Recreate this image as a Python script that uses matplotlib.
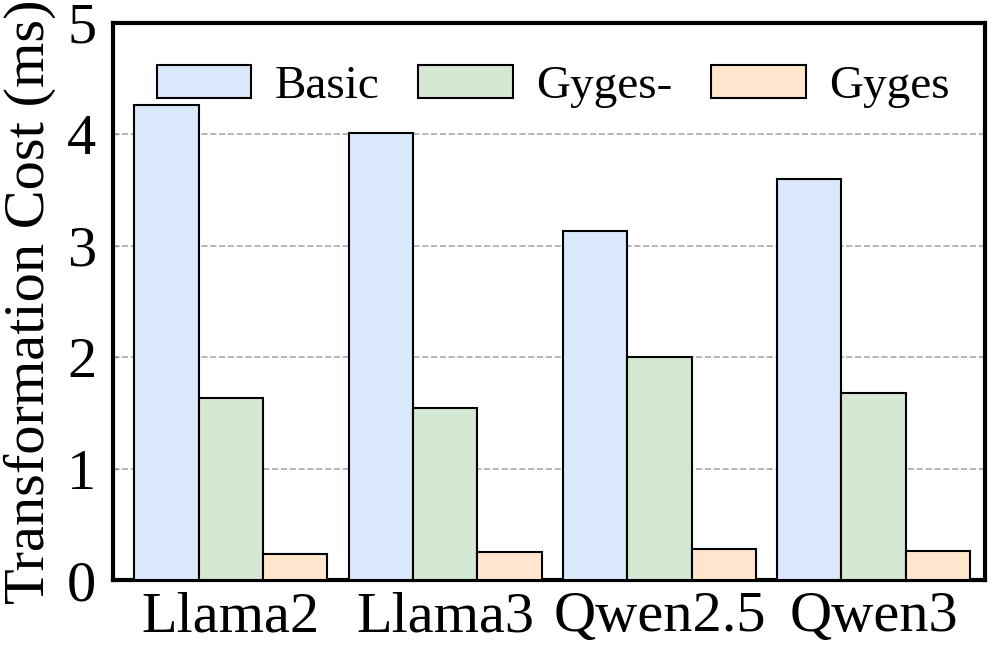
import numpy as np
import matplotlib
matplotlib.use("Agg")
import matplotlib.pyplot as plt

models = ["Llama2", "Llama3", "Qwen2.5", "Qwen3"]
basic = [4.26, 4.01, 3.13, 3.60]
gyges_minus = [1.63, 1.54, 2.00, 1.68]
gyges = [0.23, 0.25, 0.28, 0.26]

series_names = ["Basic", "Gyges-", "Gyges"]
colors = ["#dae8fc", "#d5e8d4", "#ffe6cc"]

plt.rcParams['font.family'] = ['Liberation Serif', 'DejaVu Serif']

fig = plt.figure(figsize=(9.96, 6.54), dpi=100)
ax = fig.add_axes([0.1135, 0.113, 0.8755, 0.852])

x = np.arange(len(models))
w = 0.3
for i, (vals, name, c) in enumerate(zip([basic, gyges_minus, gyges], series_names, colors)):
	ax.bar(x + (i - 1) * w, vals, w, color=c, edgecolor='black', linewidth=1.5, label=name, zorder=3)

ax.set_ylim(0, 5)
ax.set_xlim(-0.55, 3.52)
ax.set_yticks([0, 1, 2, 3, 4, 5])
ax.set_xticks(x)
ax.set_xticklabels(models)
ax.tick_params(axis='both', labelsize=42, direction='in', length=4, width=1, color='#999999')
ax.tick_params(axis='x', length=0, pad=8)
ax.tick_params(axis='y', pad=12)
ax.set_ylabel("Transformation Cost (ms)", fontsize=42, labelpad=8)
ax.yaxis.grid(True, linestyle='--', color='#aaaaaa', linewidth=1.2, zorder=0)
for s in ax.spines.values():
	s.set_linewidth(3)

ax.legend(loc='upper center', ncol=3, frameon=False, fontsize=34,
          handlelength=2.0, handleheight=0.7, columnspacing=0.82, handletextpad=0.5,
          bbox_to_anchor=(0.505, 0.984), borderaxespad=0.3)

fig.savefig("out.png", dpi=100)
